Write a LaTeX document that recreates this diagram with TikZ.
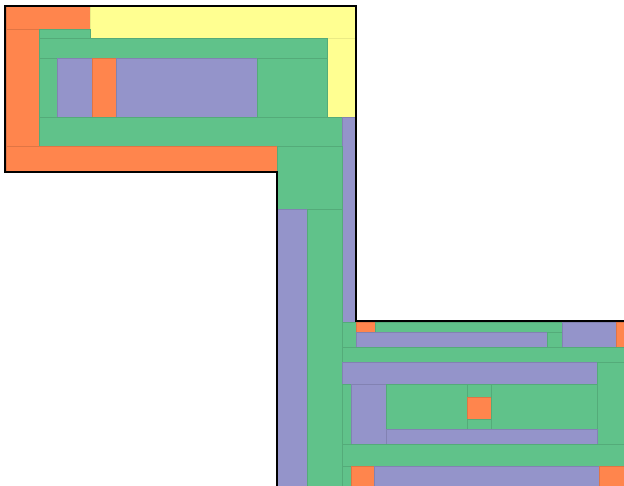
\documentclass[tikz,border=0pt]{standalone}
\definecolor{cO}{RGB}{255,133,77}
\definecolor{cG}{RGB}{96,194,138}
\definecolor{cB}{RGB}{148,148,202}
\definecolor{cY}{RGB}{255,255,145}
\tikzset{
  cell/.style={line width=0.6pt},
  oc/.style={cell,fill=cO,draw=cO!88!black},
  gc/.style={cell,fill=cG,draw=cG!88!black},
  bc/.style={cell,fill=cB,draw=cB!88!black},
  yc/.style={cell,fill=cY,draw=cY!92!black},
  outline/.style={draw=black,line width=2pt}
}
\begin{document}
\begin{tikzpicture}[x=1pt,y=-1pt]
\useasboundingbox (0,0) rectangle (624,486);
\fill[white] (0,0) rectangle (624,486);
% upper-left block
\path[oc] (6,6) rectangle (90,29);
\path[yc] (90,6) rectangle (356,38);
\path[yc] (327,38) rectangle (356,117);
\path[oc] (6,29) rectangle (39,146);
\path[gc] (39,29) rectangle (90,38);
\path[gc] (39,38) rectangle (327,58);
\path[gc] (39,58) rectangle (57,117);
\path[bc] (57,58) rectangle (92,117);
\path[oc] (92,58) rectangle (116,117);
\path[bc] (116,58) rectangle (257,117);
\path[gc] (257,58) rectangle (327,117);
\path[gc] (39,117) rectangle (342,146);
\path[bc] (342,117) rectangle (356,322);
\path[oc] (6,146) rectangle (277,172);
\path[gc] (277,146) rectangle (342,209);
\path[bc] (277,209) rectangle (307,486);
\path[gc] (307,209) rectangle (342,486);
% lower-right block
\path[gc] (342,322) rectangle (356,362);
\path[oc] (356,322) rectangle (375,332);
\path[gc] (375,322) rectangle (562,332);
\path[bc] (356,332) rectangle (547,347);
\path[gc] (547,332) rectangle (562,347);
\path[bc] (562,322) rectangle (616,347);
\path[oc] (616,322) rectangle (626,347);
\path[gc] (342,347) rectangle (626,362);
\path[bc] (342,362) rectangle (597,384);
\path[gc] (597,362) rectangle (626,444);
\path[gc] (342,384) rectangle (351,444);
\path[bc] (351,384) rectangle (386,444);
\path[gc] (386,384) rectangle (467,429);
\path[gc] (467,384) rectangle (491,397);
\path[oc] (467,397) rectangle (491,419);
\path[gc] (467,419) rectangle (491,429);
\path[gc] (491,384) rectangle (597,429);
\path[bc] (386,429) rectangle (597,444);
\path[gc] (342,444) rectangle (626,466);
\path[gc] (342,466) rectangle (351,488);
\path[oc] (351,466) rectangle (374,488);
\path[bc] (374,466) rectangle (599,488);
\path[oc] (599,466) rectangle (626,488);
% outline
\draw[outline] (630,321.5) -- (356,321.5) -- (356,6) -- (5,6) -- (5,172) -- (277,172) -- (277,490);
\end{tikzpicture}
\end{document}
